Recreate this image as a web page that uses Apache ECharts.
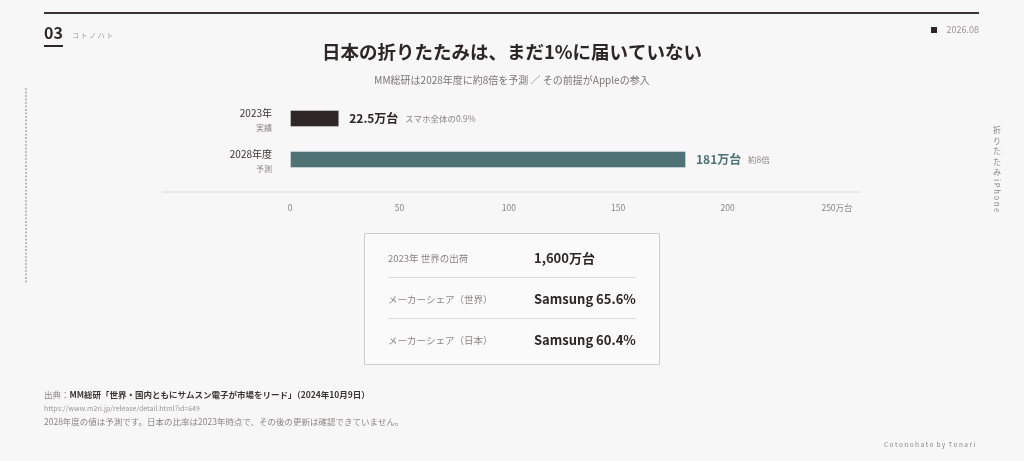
<!DOCTYPE html>
<html><head><meta charset="utf-8">
<script src="https://cdn.jsdelivr.net/npm/echarts@6/dist/echarts.min.js"></script>
<style>html,body{margin:0;padding:0;background:#f7f7f7;}#c{width:1024px;height:461px;}</style>
</head><body><div id="c"></div>
<script>
const categories = ['2023年', '2028年度'];
const subLabels = ['実績', '予測'];
const values = [22.5, 181];
const valueTexts = ['22.5万台', '181万台'];
const notes = ['スマホ全体の0.9%', '約8倍'];
const barColors = ['#2f2727', '#4f7374'];
const axisMax = 250;
const axisStep = 50;
const axisUnit = '万台';
const infoLabels = ['2023年 世界の出荷', 'メーカーシェア（世界）', 'メーカーシェア（日本）'];
const infoValues = ['1,600万台', 'Samsung 65.6%', 'Samsung 60.4%'];

const JP = '"Noto Sans CJK JP","Noto Sans",sans-serif';
const DARK = '#2d2626';
const GRAY = '#8a8585';

const chart = echarts.init(document.getElementById('c'), null, {renderer: 'canvas'});

const graphics = [
  {type: 'line', shape: {x1: 44, y1: 13, x2: 979, y2: 13}, style: {stroke: '#3a3434', lineWidth: 2}},
  {type: 'text', left: 44, top: 25, style: {text: '03', font: 'bold 16px ' + JP, fill: DARK}},
  {type: 'line', shape: {x1: 44, y1: 46, x2: 63, y2: 46}, style: {stroke: DARK, lineWidth: 2}},
  {type: 'text', left: 72, top: 32, style: {text: 'コ ト ノ ハ ト', font: '7px ' + JP, fill: '#9a9595'}},
  {type: 'rect', shape: {x: 931, y: 27, width: 6, height: 6}, style: {fill: DARK}},
  {type: 'text', x: 979, y: 30, style: {text: '2026.08', font: '9px ' + JP, fill: '#9a9595', align: 'right', verticalAlign: 'middle'}},
  {type: 'text', x: 512, y: 52, style: {text: '日本の折りたたみは、まだ1%に届いていない', font: 'bold 18.5px ' + JP, fill: DARK, align: 'center', verticalAlign: 'middle'}},
  {type: 'text', x: 512, y: 80, style: {text: 'MM総研は2028年度に約8倍を予測 ／ その前提がAppleの参入', font: '10px ' + JP, fill: '#7a7575', align: 'center', verticalAlign: 'middle'}},
  {type: 'line', shape: {x1: 26, y1: 88, x2: 26, y2: 284}, style: {stroke: '#aaa6a6', lineWidth: 1.5, lineDash: [2, 1.5]}},
  {type: 'text', x: 997, y: 125, style: {text: '折\nり\nた\nた\nみ', font: '8px ' + JP, fill: '#8a8585', align: 'center', lineHeight: 10.5}},
  {type: 'text', x: 997, y: 179, rotation: -Math.PI / 2, style: {text: 'i P h o n e', font: '7.5px ' + JP, fill: '#8a8585', align: 'left', verticalAlign: 'middle'}},
  {type: 'line', shape: {x1: 162, y1: 192, x2: 861, y2: 192}, style: {stroke: '#dcdada', lineWidth: 1}},
  {type: 'rect', shape: {x: 364.5, y: 233.5, width: 295, height: 131}, style: {fill: '#fafafa', stroke: '#cfcccc', lineWidth: 1}},
  {type: 'text', left: 44, top: 391, style: {text: '{a|出典：}{b|MM総研「世界・国内ともにサムスン電子が市場をリード」（2024年10月9日）}', rich: {a: {font: '8.5px ' + JP, fill: '#8a8585'}, b: {font: 'bold 8.5px ' + JP, fill: '#3a3434'}}}},
  {type: 'text', left: 44, top: 405, style: {text: 'https://www.m2ri.jp/release/detail.html?id=649', font: '7px ' + JP, fill: '#9a9595'}},
  {type: 'text', left: 44, top: 418, style: {text: '2028年度の値は予測です。日本の比率は2023年時点で、その後の更新は確認できていません。', font: '8.5px ' + JP, fill: '#8a8585'}},
  {type: 'text', left: 884, top: 441, style: {text: 'C o t o n o h a t o  b y  T o n a r i', font: '6.5px ' + JP, fill: '#8a8585'}}
];
infoLabels.forEach((l, i) => {
  const y = 258 + i * 41;
  graphics.push({type: 'text', x: 388, y: y, style: {text: l, font: '9.5px ' + JP, fill: '#8a8585', verticalAlign: 'middle'}});
  graphics.push({type: 'text', x: 534, y: y, style: {text: infoValues[i], font: 'bold 13px ' + JP, fill: DARK, verticalAlign: 'middle'}});
  if (i < infoLabels.length - 1) {
    graphics.push({type: 'line', shape: {x1: 388, y1: y + 19.5, x2: 636, y2: y + 19.5}, style: {stroke: '#dcdada', lineWidth: 1}});
  }
});

chart.setOption({
  backgroundColor: '#f7f7f7',
  animation: false,
  grid: {left: 290, right: 187, top: 98, height: 82, containLabel: false},
  xAxis: {
    type: 'value', min: 0, max: axisMax, interval: axisStep,
    axisLine: {show: false}, axisTick: {show: false}, splitLine: {show: false},
    axisLabel: {margin: 24, fontSize: 8.5, color: '#8a8585', fontFamily: JP,
      formatter: v => v === axisMax ? v + axisUnit : String(v)}
  },
  yAxis: {
    type: 'category', data: categories, inverse: true,
    axisLine: {show: false}, axisTick: {show: false},
    axisLabel: {
      margin: 18, align: 'right', padding: [4, 0, 0, 0],
      formatter: (v, i) => '{a|' + v + '}\n{b|' + subLabels[i] + '}',
      rich: {
        a: {fontSize: 10, color: '#3a3434', fontFamily: JP, lineHeight: 15, align: 'right'},
        b: {fontSize: 8, color: '#8a8585', fontFamily: JP, lineHeight: 14, align: 'right'}
      }
    }
  },
  series: [{
    type: 'bar', barWidth: 17,
    data: values.map((v, i) => ({value: v, itemStyle: {color: barColors[i], borderColor: 'rgba(255,255,255,0.35)', borderWidth: 1}})),
    label: {
      show: true, position: 'right', distance: 10,
      formatter: p => '{v' + p.dataIndex + '|' + valueTexts[p.dataIndex] + '}  {n|' + notes[p.dataIndex] + '}',
      rich: {
        v0: {fontSize: 12, fontWeight: 'bold', color: DARK, fontFamily: JP},
        v1: {fontSize: 12, fontWeight: 'bold', color: '#4f7374', fontFamily: JP},
        n: {fontSize: 8.5, color: '#8a8585', fontFamily: JP}
      }
    }
  }],
  graphic: graphics
});
</script></body></html>
